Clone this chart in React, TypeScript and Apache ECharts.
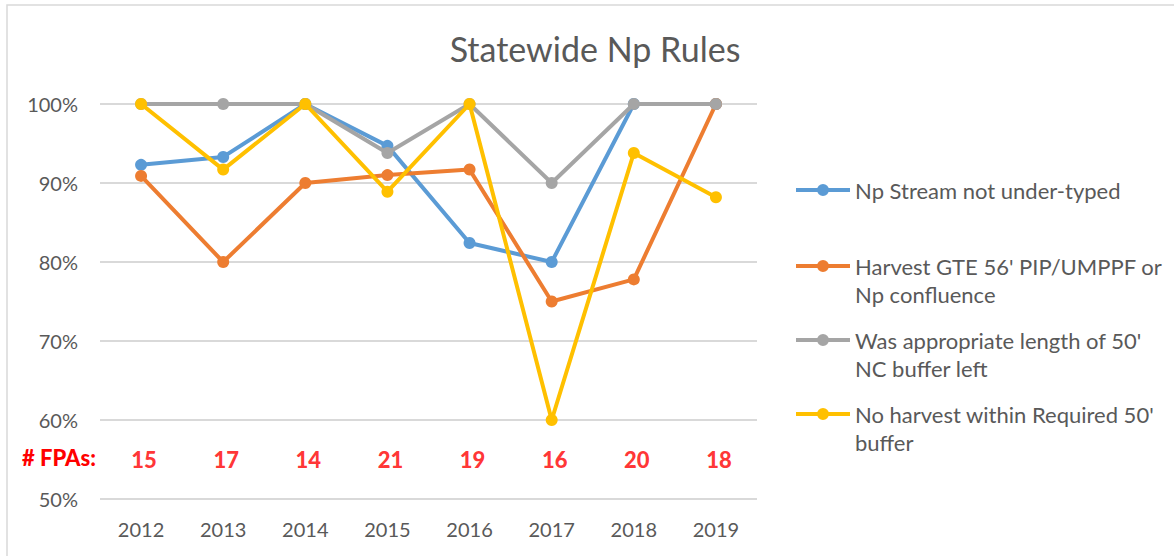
import React, { useEffect, useRef } from "react";
import * as echarts from "echarts";

const years = ["2012", "2013", "2014", "2015", "2016", "2017", "2018", "2019"];
const seriesNames = [
  "Np Stream not under-typed",
  "Harvest GTE 56' PIP/UMPPF or Np confluence",
  "Was appropriate length of 50' NC buffer left",
  "No harvest within Required 50' buffer",
];
const legendLines = [
  ["Np Stream not under-typed"],
  ["Harvest GTE 56' PIP/UMPPF or", "Np confluence"],
  ["Was appropriate length of 50'", "NC buffer left"],
  ["No harvest within Required 50'", "buffer"],
];
const npStream = [92.3, 93.3, 100, 94.7, 82.4, 80, 100, 100];
const harvestGte = [90.9, 80, 90, 91.0, 91.7, 75, 77.8, 100];
const appropriateLength = [100, 100, 100, 93.8, 100, 90, 100, 100];
const noHarvest = [100, 91.7, 100, 88.9, 100, 60, 93.8, 88.2];
const fpaCounts = [15, 17, 14, 21, 19, 16, 20, 18];
const fpaRowLevel = 55;
const colors = ["#5B9BD5", "#ED7D31", "#A5A5A5", "#FFC000"];
const seriesValues = [npStream, harvestGte, appropriateLength, noHarvest];
const legendIconCenters = [190, 266, 340, 414];

const FONT = "Lato, 'Open Sans', sans-serif";
const LINE_H = 28;
const LEGEND_ICON =
  "path://M0,4 L54,4 L54,8 L0,8 Z M21,6 A6,6 0 1,1 33,6 A6,6 0 1,1 21,6 Z";

export default function App() {
  const ref = useRef<HTMLDivElement>(null);
  useEffect(() => {
    const chart = echarts.init(ref.current!, null, { renderer: "svg" });
    const lineSeries = seriesNames.map((name, i) => ({
      name,
      type: "line",
      data: seriesValues[i],
      symbol: "circle",
      symbolSize: 12,
      lineStyle: { width: 4, color: colors[i] },
      itemStyle: { color: colors[i] },
      z: 2 + i,
    }));
    chart.setOption({
      animation: false,
      title: {
        text: "Statewide Np Rules",
        left: 595,
        textAlign: "center",
        top: 31,
        padding: 0,
        textStyle: { fontFamily: FONT, fontSize: 34, fontWeight: "normal", color: "#595959" },
      },
      grid: { left: 100, right: 417, top: 104, bottom: 57 },
      legend: seriesNames.map((name, i) => {
        const multi = legendLines[i].length > 1;
        const boxH = multi ? LINE_H * 3 : LINE_H;
        return {
          data: [name],
          left: 796,
          top: legendIconCenters[i] - boxH / 2,
          padding: 0,
          orient: "vertical",
          icon: LEGEND_ICON,
          itemWidth: 54,
          itemHeight: 12,
          formatter: () => (multi ? "\n" : "") + legendLines[i].join("\n"),
          textStyle: {
            fontFamily: FONT,
            fontSize: 22,
            color: "#595959",
            lineHeight: LINE_H,
          },
          selectedMode: false,
        };
      }),
      xAxis: {
        type: "category",
        data: years,
        boundaryGap: true,
        axisLine: { show: false },
        axisTick: { show: false },
        axisLabel: { fontFamily: FONT, fontSize: 20, color: "#595959", margin: 20 },
      },
      yAxis: {
        type: "value",
        min: 50,
        max: 100,
        interval: 10,
        axisLine: { show: false },
        axisTick: { show: false },
        axisLabel: { fontFamily: FONT, fontSize: 20, color: "#595959", margin: 22, formatter: "{value}%" },
        splitLine: { lineStyle: { color: "#D9D9D9", width: 1.8 } },
      },
      series: [
        ...lineSeries,
        {
          name: "FPAs",
          type: "scatter",
          data: fpaCounts.map(() => fpaRowLevel),
          symbolSize: 0,
          silent: true,
          label: {
            show: true,
            position: "inside",
            offset: [3, 0],
            formatter: (p: any) => String(fpaCounts[p.dataIndex]),
            fontFamily: FONT,
            fontWeight: 900,
            fontSize: 22,
            color: "#FF0000",
          },
        },
      ],
      graphic: [
        {
          type: "rect",
          shape: { x: 7, y: 5, width: 1300, height: 700 },
          style: { fill: "none", stroke: "#D9D9D9", lineWidth: 1.5 },
          silent: true,
        },
        {
          type: "text",
          left: 22,
          top: 446,
          style: {
            text: "# FPAs:",
            fontFamily: FONT,
            fontWeight: 900,
            fontSize: 22,
            fill: "#FF0000",
          },
        },
      ],
    });
    return () => chart.dispose();
  }, []);
  return (
    <div
      ref={ref}
      style={{ position: "fixed", left: 0, top: 0, width: 1174, height: 556, background: "#fff" }}
    />
  );
}
